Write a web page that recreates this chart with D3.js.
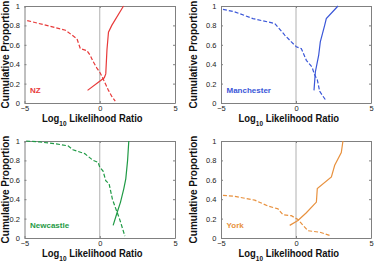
<!DOCTYPE html>
<html><head><meta charset="utf-8">
<script src="https://cdn.jsdelivr.net/npm/d3@7"></script>
<style>
html,body{margin:0;padding:0;background:#fff;}
svg{display:block;font-family:"Liberation Sans",Arial,sans-serif;}
</style></head><body>
<script>
const names = ["NZ","Manchester","Newcastle","York"];
const colors = ["#e83a3a","#3a56d8","#1f9a45","#e8913e"];
const xTicks = [-5,0,5];
const yTicks = [0,0.2,0.4,0.6,0.8,1];

// dashed curves [log10 LR, cumulative proportion]
const nzDashed = [[-4.82,0.85],[-3.28,0.79],[-2.28,0.75],[-1.84,0.70],[-1.51,0.66],[-1.29,0.56],[-0.85,0.54],[-0.63,0.49],[-0.45,0.43],[-0.19,0.36],[0.03,0.31],[0.25,0.24],[0.43,0.18],[0.58,0.13],[0.81,0.065],[1.03,0.02]];
const nzSolid = [[-0.81,0.13],[0.30,0.26],[0.40,0.30],[0.48,0.55],[0.58,0.73],[0.80,0.80],[1.58,1.0]];
const manDashed = [[-4.87,0.966],[-4.09,0.94],[-2.87,0.87],[-1.42,0.82],[-0.75,0.70],[-0.31,0.63],[0.02,0.58],[0.36,0.56],[0.69,0.44],[1.07,0.37],[1.24,0.29],[1.42,0.24],[1.58,0.12],[2.02,0.02]];
const manSolid = [[1.2,0.13],[1.29,0.32],[1.51,0.49],[1.62,0.63],[1.91,0.80],[2.02,0.87],[2.8,1.0]];
const newDashed = [[-4.89,1.0],[-4.0,0.99],[-2.89,0.97],[-2.11,0.95],[-1.78,0.91],[-1.0,0.87],[-0.44,0.80],[-0.11,0.78],[0.0,0.73],[0.22,0.69],[0.4,0.59],[0.62,0.56],[0.84,0.40],[1.07,0.30],[1.33,0.19],[1.67,0.02]];
const newSolid = [[0.89,0.13],[1.15,0.26],[1.38,0.37],[1.6,0.51],[1.73,0.61],[1.85,0.80],[1.93,1.0]];
const yorkDashed = [[-4.87,0.44],[-4.09,0.43],[-2.75,0.39],[-1.87,0.33],[-1.2,0.30],[-0.87,0.24],[-0.31,0.23],[0.13,0.19],[0.47,0.13],[0.8,0.075],[1.58,0.06],[2.36,0.02]];
const yorkSolid = [[-0.42,0.13],[0.13,0.18],[0.69,0.26],[1.36,0.37],[1.42,0.51],[2.36,0.63],[2.58,0.75],[3.02,0.88],[3.13,1.0]];

const dashedSets = [nzDashed, manDashed, newDashed, yorkDashed];
const solidSets = [nzSolid, manSolid, newSolid, yorkSolid];

const W = 377, H = 268;
const svg = d3.select("body").append("svg").attr("width", W).attr("height", H);

const boxes = [
  {x0:24.5, x1:175, y0:6, y1:103, yl:9},
  {x0:221, x1:371, y0:6, y1:103, yl:197},
  {x0:24.5, x1:175, y0:141, y1:238, yl:9},
  {x0:221, x1:371, y0:141, y1:238, yl:197}
];

boxes.forEach((b, i) => {
  const x = d3.scaleLinear().domain([-5,5]).range([b.x0, b.x1]);
  const y = d3.scaleLinear().domain([0,1]).range([b.y1, b.y0]);
  const g = svg.append("g");

  // zero line
  g.append("line").attr("x1", x(0)).attr("x2", x(0)).attr("y1", y(0)).attr("y2", y(1))
    .attr("stroke", "#b0b0b0").attr("stroke-width", 1);

  // axes
  const axL = d3.axisLeft(y).tickValues(yTicks).tickFormat(d3.format("~g")).tickSizeInner(-2).tickSizeOuter(0).tickPadding(4.5);
  const axR = d3.axisRight(y).tickValues(yTicks).tickFormat("").tickSizeInner(-2).tickSizeOuter(0);
  const axB = d3.axisBottom(x).tickValues(xTicks).tickFormat(d3.format("d")).tickSizeInner(-2).tickSizeOuter(0).tickPadding(3);
  const axT = d3.axisTop(x).tickValues(xTicks).tickFormat("").tickSizeInner(-2).tickSizeOuter(0);
  const gl = g.append("g").attr("transform", `translate(${b.x0},0)`).call(axL);
  const gr = g.append("g").attr("transform", `translate(${b.x1},0)`).call(axR);
  const gb = g.append("g").attr("transform", `translate(0,${b.y1})`).call(axB);
  const gt = g.append("g").attr("transform", `translate(0,${b.y0})`).call(axT);
  [gl,gr,gb,gt].forEach(a => {
    a.select(".domain").attr("stroke", "#808080");
    a.selectAll(".tick line").attr("stroke", "#808080");
    a.selectAll("text").attr("font-size", 7.5).attr("fill", "#222").attr("font-family", "Liberation Sans, Arial, sans-serif");
  });

  const line = d3.line().x(d => x(d[0])).y(d => y(d[1]));
  g.append("path").datum(dashedSets[i]).attr("d", line).attr("fill", "none")
    .attr("stroke", colors[i]).attr("stroke-width", 1.2).attr("stroke-dasharray", "4,2");
  g.append("path").datum(solidSets[i]).attr("d", line).attr("fill", "none")
    .attr("stroke", colors[i]).attr("stroke-width", 1.2);

  // panel label
  g.append("text").attr("x", b.x0 + 5.5).attr("y", y(0.1)).text(names[i])
    .attr("font-size", 8).attr("font-weight", "bold").attr("fill", colors[i]);

  // y label
  g.append("text").attr("transform", `translate(${b.yl},${(b.y0+b.y1)/2}) rotate(-90)`)
    .attr("text-anchor", "middle").attr("font-size", 10).attr("font-weight", "bold").attr("fill", "#111")
    .text("Cumulative Proportion");

  // x label
  const xl = g.append("text").attr("transform", `translate(${b.x0 + 17.5},${b.y1 + 19}) scale(0.86,1)`)
    .attr("text-anchor", "start").attr("font-size", 11).attr("font-weight", "bold").attr("fill", "#111");
  xl.append("tspan").text("Log");
  xl.append("tspan").text("10").attr("font-size", 7.5).attr("dy", 4);
  xl.append("tspan").text(" Likelihood Ratio").attr("dy", -4);
});
</script>
</body></html>
